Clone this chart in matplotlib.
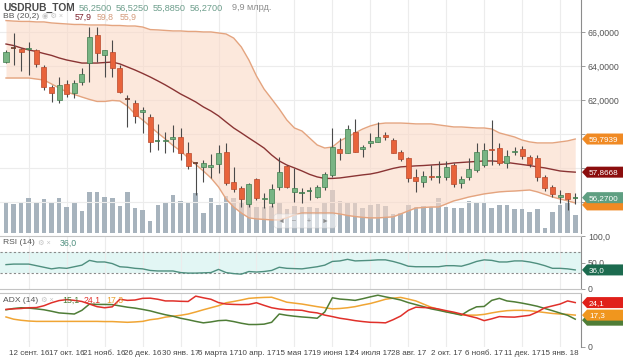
import matplotlib
matplotlib.use("Agg")
import matplotlib.pyplot as plt
from matplotlib.patches import Polygon, FancyBboxPatch
from matplotlib.transforms import IdentityTransform
import numpy as np

plt.rcParams['font.family'] = ['Liberation Sans', 'DejaVu Sans']

W, H = 623, 359

# weekly candles, 22 aug 2016 .. 29 jan 2018
date_labels = ['12 сент. 16', '17 окт. 16', '21 нояб. 16', '26 дек. 16', '30 янв. 17',
               '6 марта 17', '10 апр. 17', '15 мая 17', '19 июня 17', '24 июля 17',
               '28 авг. 17', '2 окт. 17', '6 нояб. 17', '11 дек. 17', '15 янв. 18']
date_pos = [3, 8, 13, 18, 23, 28, 33, 38, 43, 48, 53, 58, 63, 68, 73]

opens = [64.25, 65.10, 65.02, 65.00, 64.96, 63.96, 62.78, 62.02, 62.96, 62.43,
         63.08, 64.19, 65.84, 64.66, 64.84, 63.90, 62.10, 61.84, 61.30, 61.02,
         59.55, 59.58, 59.70, 59.84, 58.90, 58.32, 58.08, 58.10, 58.25, 58.96,
         57.20, 56.84, 55.90, 57.37, 56.20, 55.96, 56.90, 58.14, 56.60, 56.50,
         56.66, 56.31, 56.90, 57.60, 59.14, 58.90, 60.14, 59.14, 59.48, 59.55,
         59.96, 59.66, 58.96, 58.60, 57.49, 57.20, 57.55, 57.48, 57.49, 58.20,
         57.14, 57.49, 57.90, 58.20, 59.14, 59.20, 58.31, 58.96, 59.14, 58.66,
         58.60, 57.49, 56.90, 56.31, 56.55, 56.25]
highs = [64.96, 65.96, 65.10, 65.43, 65.02, 64.08, 62.90, 63.37, 63.19, 63.19,
         63.90, 66.31, 66.31, 64.96, 65.55, 64.08, 62.31, 62.02, 61.60, 61.20,
         60.60, 60.14, 60.55, 60.37, 59.55, 58.37, 58.49, 58.84, 59.37, 59.49,
         58.08, 56.96, 57.14, 57.43, 56.55, 57.08, 58.66, 58.20, 58.02, 56.84,
         56.90, 57.02, 57.78, 60.37, 59.78, 60.55, 60.90, 59.37, 60.08, 60.72,
         60.14, 59.78, 59.08, 58.66, 57.96, 57.84, 58.20, 58.43, 58.43, 58.31,
         57.55, 58.61, 59.49, 59.49, 60.84, 59.49, 59.08, 59.25, 59.31, 58.78,
         58.78, 57.61, 57.02, 56.72, 56.55, 56.525]
lows = [64.19, 64.08, 63.70, 63.49, 63.96, 62.60, 61.90, 61.84, 62.19, 62.14,
        62.90, 63.08, 64.25, 63.37, 63.37, 62.43, 60.43, 60.66, 60.08, 58.96,
        59.08, 58.90, 58.96, 58.49, 57.96, 56.43, 57.20, 57.43, 57.72, 57.02,
        56.60, 55.72, 55.72, 56.14, 55.66, 55.72, 56.72, 56.84, 56.02, 55.96,
        56.14, 56.25, 56.72, 57.49, 58.49, 58.90, 58.96, 58.66, 59.25, 59.55,
        59.66, 58.90, 58.43, 57.20, 56.60, 56.90, 57.30, 57.14, 57.31, 56.90,
        56.84, 57.31, 57.78, 58.08, 58.20, 58.20, 58.02, 58.78, 58.55, 58.08,
        57.25, 56.66, 56.31, 55.96, 55.55, 55.885]
closes = [64.84, 65.05, 64.84, 65.10, 64.14, 62.78, 62.43, 62.90, 62.37, 63.02,
          63.55, 65.72, 64.78, 64.96, 63.90, 62.49, 62.06, 61.08, 61.40, 59.55,
          59.60, 59.65, 59.85, 58.90, 58.14, 58.28, 58.31, 58.20, 58.90, 57.14,
          56.78, 56.20, 57.08, 56.25, 56.27, 56.78, 57.78, 56.90, 56.84, 56.55,
          56.70, 56.90, 57.66, 59.25, 58.90, 60.31, 58.96, 59.25, 59.60, 59.84,
          59.84, 58.90, 58.55, 57.43, 57.25, 57.55, 57.48, 57.50, 58.08, 57.08,
          57.37, 57.96, 58.96, 59.08, 59.08, 58.31, 58.72, 59.02, 58.72, 58.25,
          57.49, 56.84, 56.49, 56.43, 56.20, 56.27]
# volume, bn RUB
volume = [16.5, 16.0, 16.5, 19.3, 17.1, 18.7, 17.1, 19.3, 14.3, 17.1,
          12.1, 22.6, 22.6, 19.8, 19.3, 14.9, 22.6, 13.8, 12.7, 6.6,
          15.4, 17.1, 20.9, 17.6, 16.5, 22.0, 11.0, 19.3, 15.4, 20.4,
          19.3, 17.1, 16.0, 14.3, 14.3, 14.9, 16.5, 13.2, 14.9, 14.3,
          14.3, 13.8, 16.5, 23.7, 17.6, 17.1, 16.5, 13.8, 15.4, 16.0,
          14.9, 10.5, 11.0, 15.4, 14.3, 14.9, 14.3, 19.3, 14.3, 13.8,
          13.8, 17.6, 17.1, 17.1, 13.8, 15.4, 15.4, 13.2, 13.2, 11.6,
          13.2, 2.8, 11.6, 15.4, 16.5, 9.9]

bb_upper = [66.69, 66.66, 66.64, 66.64, 66.61, 66.61, 66.55, 66.52, 66.49, 66.46,
            66.46, 66.43, 66.43, 66.43, 66.40, 66.40, 66.37, 66.37, 66.31, 66.16,
            66.14, 66.11, 66.08, 66.08, 66.05, 66.05, 66.02, 66.02, 65.96, 65.90,
            65.66, 65.14, 64.37, 63.43, 62.66, 62.08, 61.49, 60.84, 60.37, 60.19,
            59.78, 59.37, 59.19, 59.25, 59.61, 59.84, 60.08, 60.31, 60.49, 60.61,
            60.66, 60.66, 60.66, 60.64, 60.61, 60.61, 60.61, 60.55, 60.49, 60.43,
            60.43, 60.40, 60.37, 60.37, 60.31, 60.08, 59.96, 59.84, 59.66, 59.55,
            59.49, 59.49, 59.49, 59.55, 59.61, 59.72]
bb_mid = [65.31, 65.22, 65.08, 64.96, 64.87, 64.75, 64.64, 64.49, 64.37, 64.28,
          64.19, 64.19, 64.19, 64.22, 64.25, 64.14, 63.96, 63.78, 63.58, 63.37,
          63.14, 62.90, 62.64, 62.37, 62.14, 61.90, 61.61, 61.37, 61.08, 60.72,
          60.37, 60.08, 59.78, 59.49, 59.19, 58.78, 58.43, 58.19, 58.02, 57.84,
          57.64, 57.49, 57.40, 57.40, 57.43, 57.49, 57.55, 57.61, 57.66, 57.75,
          57.87, 57.99, 58.08, 58.11, 58.14, 58.16, 58.19, 58.22, 58.25, 58.31,
          58.34, 58.37, 58.40, 58.43, 58.43, 58.40, 58.34, 58.28, 58.22, 58.16,
          58.08, 58.02, 57.93, 57.84, 57.80, 57.77]
bb_lower = [63.31, 63.31, 63.31, 63.31, 63.25, 63.19, 62.96, 62.72, 62.49, 62.34,
            62.19, 62.05, 61.93, 61.93, 61.99, 61.96, 61.66, 61.19, 60.84, 60.46,
            60.08, 59.72, 59.34, 59.02, 58.61, 58.22, 57.84, 57.43, 56.90, 56.19,
            55.72, 55.37, 55.08, 55.02, 54.99, 54.96, 54.96, 55.08, 55.25, 55.37,
            55.37, 55.37, 55.37, 55.37, 55.31, 55.22, 55.16, 55.11, 55.08, 55.08,
            55.11, 55.14, 55.31, 55.49, 55.66, 55.69, 55.72, 55.72, 55.90, 56.08,
            56.19, 56.31, 56.40, 56.49, 56.55, 56.61, 56.64, 56.66, 56.69, 56.72,
            56.61, 56.46, 56.31, 56.19, 56.08, 55.96]

rsi = [46, 47, 47, 47, 44, 41, 38, 40, 39, 42,
       45, 54, 51, 51, 48, 42, 41, 39, 38, 35,
       34, 34, 34, 31, 30, 30, 30.5, 31, 37, 31,
       29, 28, 33, 32, 33, 35, 41, 39, 38.5, 38,
       40, 42, 45, 52, 53, 56, 53, 53.5, 54, 55,
       55, 52, 48, 43, 42, 42, 42, 42, 44, 44,
       43, 47, 52, 55, 54, 51, 51, 53, 53, 51,
       48, 44, 39, 39, 38, 36]

adx_green = [20.2, 20.9, 21.3, 21.1, 20.7, 20.2, 19.4, 18.5, 18.2, 17.9,
             19.9, 23.3, 23.1, 23.1, 23.0, 22.3, 21.6, 21.1, 20.4, 19.6,
             18.5, 17.5, 16.7, 15.6, 14.8, 13.9, 13.1, 13.6, 14.3, 14.5,
             13.8, 12.9, 12.2, 12.2, 12.4, 13.4, 17.9, 17.2, 16.7, 16.3,
             16.0, 15.6, 19.0, 26.7, 26.0, 25.7, 25.3, 26.2, 27.2, 28.1,
             27.2, 26.4, 25.5, 24.1, 23.0, 21.9, 20.7, 19.9, 19.0, 18.2,
             17.3, 19.9, 21.8, 22.0, 25.3, 26.4, 25.0, 24.5, 23.8, 23.0,
             22.1, 20.9, 19.7, 18.4, 17.2, 15.1]
adx_red = [20.4, 20.7, 20.9, 21.3, 21.4, 22.4, 24.0, 25.2, 25.7, 25.3,
           24.7, 23.3, 21.9, 21.3, 21.8, 25.9, 25.3, 25.5, 26.4, 26.5,
           25.9, 25.0, 25.0, 24.8, 24.7, 27.6, 26.7, 25.9, 24.1, 23.3,
           23.1, 23.0, 23.1, 24.0, 22.6, 21.3, 20.6, 20.2, 20.1, 19.9,
           19.0, 18.5, 17.3, 16.5, 15.6, 15.0, 14.3, 13.8, 13.4, 13.3,
           13.1, 14.8, 16.8, 19.9, 21.6, 21.4, 21.3, 20.6, 19.7, 18.9,
           17.9, 16.8, 15.8, 14.3, 15.3, 16.5, 16.3, 16.2, 16.7, 17.2,
           19.0, 21.3, 22.3, 23.3, 25.0, 24.1]
adx_orange = [16.3, 15.1, 14.5, 14.1, 13.9, 13.9, 13.9, 13.9, 13.9, 13.9,
              13.9, 13.9, 13.9, 13.8, 13.8, 13.6, 13.4, 13.6, 13.9, 14.8,
              15.3, 16.2, 16.7, 17.2, 17.9, 19.0, 20.2, 21.3, 22.4, 24.0,
              24.7, 25.5, 26.4, 26.7, 26.9, 27.0, 25.7, 24.3, 23.8, 23.3,
              22.6, 21.9, 21.3, 20.7, 20.9, 21.3, 21.9, 22.8, 23.6, 24.7,
              25.9, 26.5, 26.9, 26.0, 25.0, 23.3, 21.6, 20.4, 19.2, 18.4,
              17.5, 17.3, 17.3, 17.7, 18.5, 19.2, 19.7, 19.9, 19.9, 19.7,
              19.2, 18.7, 18.2, 17.9, 17.7, 17.3]

GREEN_FILL, GREEN_EDGE = '#78b484', '#3f7d4e'
RED_FILL, RED_EDGE = '#e8633b', '#b8482b'
WICK = '#4a4a4a'
GRID = '#ececec'
AXIS = '#8c8c8c'


def frect(x0, y0, x1, y1):
    return [x0 / W, 1 - y1 / H, (x1 - x0) / W, (y1 - y0) / H]


def ptext(x, y, s, **kw):
    return fig.text(x, H - y, s, transform=IdentityTransform(), **kw)


def tag(ax_, value, text, color, dy=0):
    # arrow shaped value label sitting on the right axis
    yd = ax_.transData.transform((0, value))[1] + dy
    pts = [(582, yd), (587, yd + 5.5), (623, yd + 5.5), (623, yd - 5.5), (587, yd - 5.5)]
    fig.add_artist(Polygon(pts, closed=True, transform=IdentityTransform(),
                           facecolor=color, edgecolor='none', zorder=10))
    if text:
        fig.text(589, yd - 0.5, text, transform=IdentityTransform(), color='white',
                 fontsize=5.9, va='center', ha='left', zorder=11)


fig = plt.figure(figsize=(W / 100, H / 100), dpi=100)
fig.patch.set_facecolor('white')

x = np.arange(len(closes))
xlim = (-0.79, 75.76)

ax_vol = fig.add_axes(frect(0, 0, 581, 233), zorder=0)
ax = fig.add_axes(frect(0, 0, 581, 233), zorder=1)
ax.patch.set_alpha(0)
ax_rsi = fig.add_axes(frect(0, 236, 581, 289))
ax_adx = fig.add_axes(frect(0, 293, 581, 347))

# volume
ax_vol.bar(x, volume, width=0.6, color='#a7b3bd', zorder=2)
ax_vol.set_xlim(*xlim)
ax_vol.set_ylim(0, 128.2)
for p in date_pos:
    ax_vol.axvline(p, color=GRID, lw=0.8, zorder=0)
ax_vol.axis('off')

# price panel
for v in [56, 58, 60, 62, 64, 66]:
    ax.axhline(v, color=GRID, lw=0.8, zorder=0)
ax.fill_between(x, bb_lower, bb_upper, color='#fbd9c6', alpha=0.6, lw=0, zorder=1)
ax.plot(x, bb_upper, color='#e4a47f', lw=1, zorder=2)
ax.plot(x, bb_lower, color='#e4a47f', lw=1, zorder=2)
ax.plot(x, bb_mid, color='#8a3434', lw=1, zorder=2)

for i in x:
    o, h, l, c = opens[i], highs[i], lows[i], closes[i]
    up = c >= o
    ax.vlines(i, l, h, color=WICK, lw=0.8, zorder=4)
    if abs(c - o) < 0.06:
        ax.hlines((o + c) / 2, i - 0.35, i + 0.35,
                  color=GREEN_EDGE if up else '#6b3a2a', lw=1.2, zorder=5)
    else:
        ax.bar(i, abs(c - o), bottom=min(o, c), width=0.66,
               color=GREEN_FILL if up else RED_FILL,
               edgecolor=GREEN_EDGE if up else RED_EDGE, lw=0.5, zorder=5)

ax.set_xlim(*xlim)
ax.set_ylim(54.19, 67.9)
ax.yaxis.tick_right()
ax.set_yticks([56, 58, 60, 62, 64, 66])
ax.set_yticklabels(['', '', '', '62,0000', '64,0000', '66,0000'])
ax.set_xticks([])

# RSI panel
ax_rsi.axhspan(30, 70, color='#e2f6f4', lw=0, zorder=0)
for p in date_pos:
    ax_rsi.axvline(p, color=GRID, lw=0.8, zorder=0)
ax_rsi.axhline(70, color='#8a8a8a', lw=0.8, ls=(0, (2, 2)), zorder=1)
ax_rsi.axhline(30, color='#8a8a8a', lw=0.8, ls=(0, (2, 2)), zorder=1)
ax_rsi.plot(x, rsi, color='#4f8f7f', lw=1, zorder=3)
ax_rsi.set_xlim(*xlim)
ax_rsi.set_ylim(0, 100)
ax_rsi.yaxis.tick_right()
ax_rsi.set_yticks([0, 50, 100])
ax_rsi.set_yticklabels(['0', '50,0', '100,0'])
ax_rsi.set_xticks([])

# ADX panel
for p in date_pos:
    ax_adx.axvline(p, color=GRID, lw=0.8, zorder=0)
ax_adx.plot(x, adx_orange, color='#f0a534', lw=1.1, zorder=3)
ax_adx.plot(x, adx_green, color='#4f7d37', lw=1.1, zorder=3)
ax_adx.plot(x, adx_red, color='#e0302a', lw=1.1, zorder=4)
ax_adx.set_xlim(*xlim)
ax_adx.set_ylim(0, 29.3)
ax_adx.yaxis.tick_right()
ax_adx.set_yticks([0])
ax_adx.set_yticklabels(['0'])
ax_adx.set_xticks(date_pos)
ax_adx.set_xticklabels(date_labels)
ax_adx.tick_params(axis='x', length=0, pad=2.5, labelsize=5.8, labelcolor='#444444')

for a in (ax, ax_rsi, ax_adx):
    for s in ('left', 'top', 'bottom'):
        a.spines[s].set_visible(False)
    a.spines['right'].set_color(AXIS)
    a.spines['right'].set_linewidth(0.8)
    a.tick_params(axis='y', length=3, width=0.6, color=AXIS, pad=2,
                  labelsize=6.3, labelcolor='#555555')
for a, sides in ((ax_rsi, ('top', 'bottom')), (ax_adx, ('top',))):
    for s in sides:
        a.spines[s].set_visible(True)
        a.spines[s].set_color('#c4c4c4')
        a.spines[s].set_linewidth(0.8)

# value tags on the right (lower ones are mostly hidden under the next tag)
tag(ax, bb_lower[-1], '', '#f08a24', dy=-2)
tag(ax, closes[-1], '56,2700', '#5f9f82')
tag(ax, bb_mid[-1], '57,8668', '#8b0d0d')
tag(ax, bb_upper[-1], '59,7939', '#f08a24')
tag(ax_rsi, rsi[-1], '36,0', '#1c6b4f')
tag(ax_adx, adx_green[-1], '', '#4f7d37', dy=-1)
tag(ax_adx, adx_orange[-1], '17,3', '#f0961e')
tag(ax_adx, adx_red[-1], '24,1', '#e0201a')

# navigation overlay
fig.add_artist(FancyBboxPatch((274, H - 228), 62, 14, boxstyle='round,pad=0,rounding_size=3',
                              transform=IdentityTransform(), facecolor='white', alpha=0.55,
                              edgecolor='#cfcfcf', lw=0.6, zorder=6))
for xx, s in ((281, '◄'), (294, '–'), (309, '+'), (325, '►')):
    ptext(xx, 221, s, fontsize=5, color='#8a8a8a', ha='center', va='center', zorder=7)

# legends
ptext(3, 8, 'USDRUB_TOM', fontsize=7.4, weight='bold', color='#4a4a4a', va='center')
for xx, s in ((79, '56,2500'), (116, '56,5250'), (153, '55,8850'), (190, '56,2700')):
    ptext(xx, 8, s, fontsize=6.6, color='#6d9e8c', va='center')
ptext(232, 8, '9,9 млрд.', fontsize=6.6, color='#8c8c8c', va='center')

ptext(3, 17, 'BB (20,2)', fontsize=6.1, color='#555555', va='center')
ptext(42, 17, '◉ ⚙ ×', fontsize=5.2, color='#c4c4c4', va='center')
ptext(75, 17, '57,9', fontsize=6.3, color='#7a1f2a', va='center')
ptext(97, 17, '59,8', fontsize=6.3, color='#d49a7a', va='center')
ptext(120, 17, '55,9', fontsize=6.3, color='#d49a7a', va='center')

ptext(3, 243, 'RSI (14)', fontsize=6.1, color='#555555', va='center')
ptext(38, 243, '⚙ ×', fontsize=5.2, color='#c4c4c4', va='center')
ptext(60, 243, '36,0', fontsize=6.3, color='#4f8f7f', va='center')

ptext(3, 300, 'ADX (14)', fontsize=6.1, color='#555555', va='center')
ptext(41, 300, '⚙ ×', fontsize=5.2, color='#c4c4c4', va='center')
ptext(62, 300, '15,1', fontsize=6.3, color='#4f7d37', va='center')
ptext(84, 300, '24,1', fontsize=6.3, color='#e0302a', va='center')
ptext(106, 300, '17,3', fontsize=6.3, color='#e8a030', va='center')

fig.savefig('out.png', dpi=100)
